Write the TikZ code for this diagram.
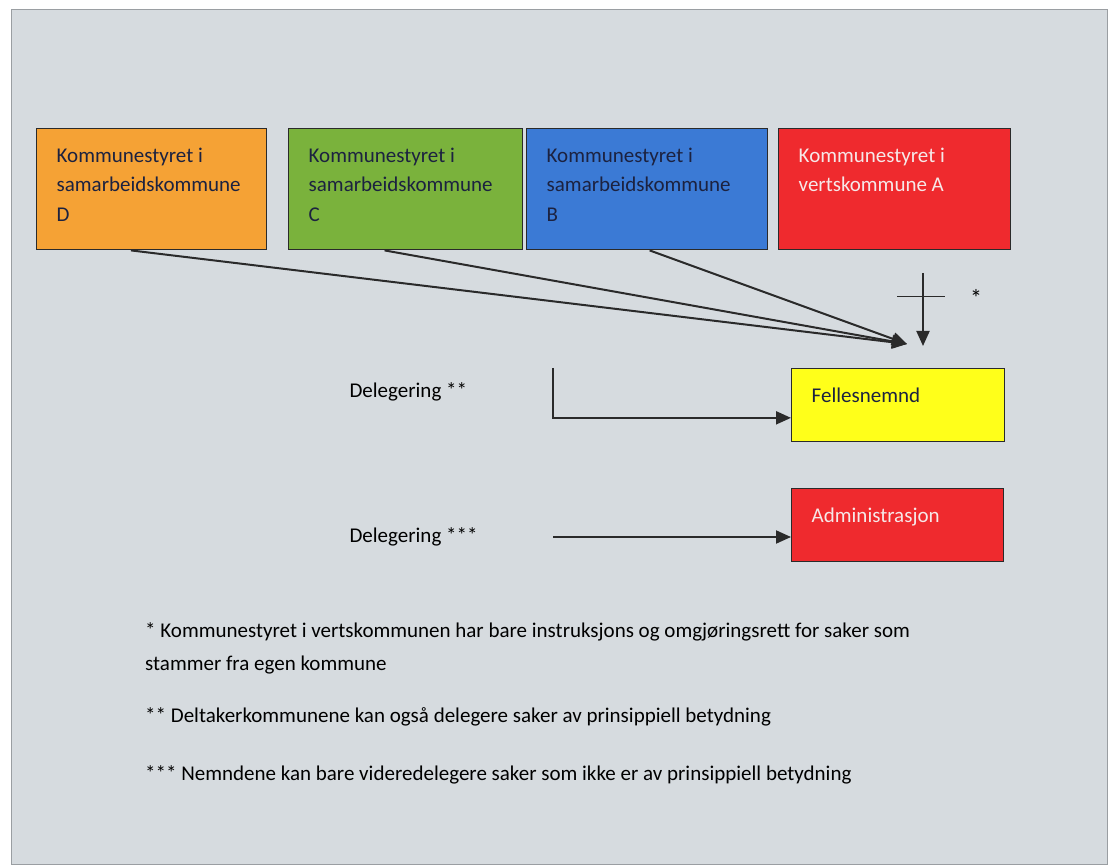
\documentclass[tikz,border=0pt]{standalone}
\usepackage{fontspec}
\setmainfont{Carlito}
\usetikzlibrary{arrows.meta,calc}

\definecolor{bakgrunn}{HTML}{D6DBDF}
\definecolor{ramme}{HTML}{9A9EA2}
\definecolor{oransje}{HTML}{F5A235}
\definecolor{gronn}{HTML}{7AB23C}
\definecolor{blaa}{HTML}{3B7AD5}
\definecolor{rod}{HTML}{EF2A2E}
\definecolor{gul}{HTML}{FFFF1A}
\definecolor{mork}{HTML}{1C2240}
\definecolor{lys}{HTML}{F6E8E8}
\definecolor{pilfarge}{HTML}{2A2A2A}

\newcommand{\boksinnhold}[3]{\parbox[t][#2][t]{#1}{\raggedright #3}}

\begin{document}
\begin{tikzpicture}[x=1pt,y=-1pt,
	kboks/.style={draw=pilfarge, line width=1.4pt, anchor=north west, inner xsep=20pt, inner ysep=19pt,
		font=\fontsize{21}{29.5}\selectfont, text=mork},
	pilen/.style={draw=pilfarge, line width=2pt, -{Triangle[length=15pt,width=13pt]}},
	fotnote/.style={anchor=base west, inner sep=0pt, align=left, font=\fontsize{21}{33}\selectfont, text=black}]
		\fill[white] (0,0) rectangle (1114,866);
		\useasboundingbox (0,0) rectangle (1114,866);
		\filldraw[draw=ramme, fill=bakgrunn, line width=0.8pt] (11,9) rectangle (1107,864);
		
		% kommunestyrene
		\node[kboks, fill=oransje] (kD) at (36,128) {\boksinnhold{190pt}{83pt}{Kommunestyret i\\samarbeidskommune\\D}};
		\node[kboks, fill=gronn] (kC) at (288,128) {\boksinnhold{194pt}{83pt}{Kommunestyret i\\samarbeidskommune\\C}};
		\node[kboks, fill=blaa] (kB) at (526,128) {\boksinnhold{201pt}{83pt}{Kommunestyret i\\samarbeidskommune\\B}};
		\node[kboks, fill=rod, text=lys] (kA) at (778,128) {\boksinnhold{192pt}{83pt}{Kommunestyret i\\vertskommune A}};
		
		\node[kboks, fill=gul] (fn) at (791,368) {\boksinnhold{173pt}{35pt}{Fellesnemnd}};
		\node[kboks, fill=rod, text=lys] (adm) at (791,488) {\boksinnhold{172pt}{35pt}{Administrasjon}};
		
		\coordinate (samle) at (907,344);
		\draw[pilen] ($(kD.south west)!0.41!(kD.south east)$) -- (samle);
		\draw[pilen] ($(kC.south west)!0.41!(kC.south east)$) -- (samle);
		\draw[pilen] ($(kB.south west)!0.51!(kB.south east)$) -- (samle);
		
		% instruksjonsrett
		\coordinate (instr) at (923,273);
		\coordinate (instrslutt) at (923,346);
		\draw[pilen] (instr) -- (instrslutt);
		\draw[pilfarge, line width=1pt] (897,297) -- (945,297);
		\node[font=\fontsize{24}{25}\selectfont] (stjerne) at (976,298) {*};
		
		% delegering
		\node[anchor=west, font=\fontsize{21}{25}\selectfont] (del2) at (346,392) {Delegering **};
		\node[anchor=west, font=\fontsize{21}{25}\selectfont] (del3) at (346,537) {Delegering ***};
		\coordinate (d2) at (553,368);
		\coordinate (d3) at (553,537);
		\draw[pilen] (d2) |- ($(fn.north west)!0.67!(fn.south west)$);
		\draw[pilen] (d3) -- (d3 -| adm.west);
		
		\node[fotnote] (note1) at (145,670) {* Kommunestyret i vertskommunen har bare instruksjons og omgjøringsrett for saker som\\stammer fra egen kommune};
		\node[fotnote] (note2) at (145,722) {** Deltakerkommunene kan også delegere saker av prinsippiell betydning};
		\node[fotnote] (note3) at (145,780) {*** Nemndene kan bare videredelegere saker som ikke er av prinsippiell betydning};
\end{tikzpicture}
\end{document}
